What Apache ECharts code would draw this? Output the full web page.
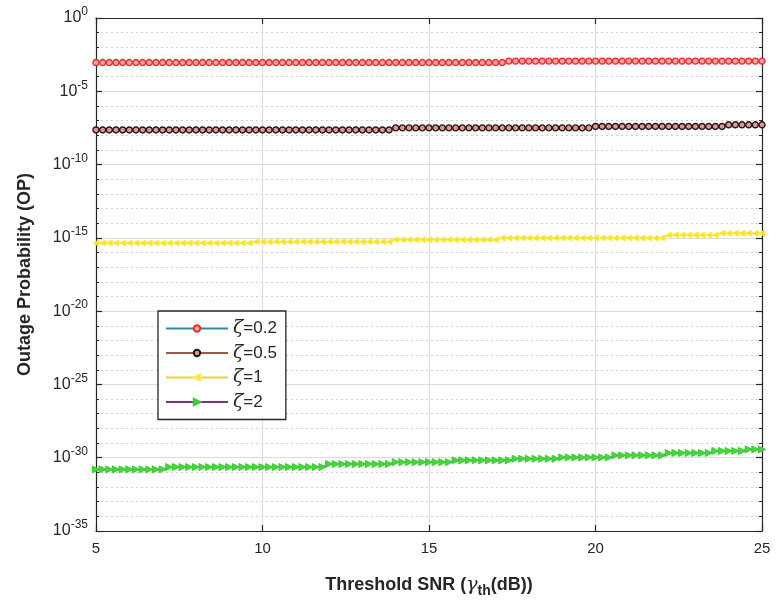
<!DOCTYPE html>
<html>
<head>
<meta charset="utf-8">
<script src="https://cdn.jsdelivr.net/npm/echarts@6/dist/echarts.min.js"></script>
<style>html,body{margin:0;padding:0;background:#fff}#c{width:776px;height:615px}</style>
</head>
<body>
<div id="c"></div>
<script>
// Threshold SNR (dB), 5 to 25 in 0.2 dB steps
const snrDb = [
  5.0,5.2,5.4,5.6,5.8,6.0,6.2,6.4,6.6,6.8,
  7.0,7.2,7.4,7.6,7.8,8.0,8.2,8.4,8.6,8.8,
  9.0,9.2,9.4,9.6,9.8,10.0,10.2,10.4,10.6,10.8,
  11.0,11.2,11.4,11.6,11.8,12.0,12.2,12.4,12.6,12.8,
  13.0,13.2,13.4,13.6,13.8,14.0,14.2,14.4,14.6,14.8,
  15.0,15.2,15.4,15.6,15.8,16.0,16.2,16.4,16.6,16.8,
  17.0,17.2,17.4,17.6,17.8,18.0,18.2,18.4,18.6,18.8,
  19.0,19.2,19.4,19.6,19.8,20.0,20.2,20.4,20.6,20.8,
  21.0,21.2,21.4,21.6,21.8,22.0,22.2,22.4,22.6,22.8,
  23.0,23.2,23.4,23.6,23.8,24.0,24.2,24.4,24.6,24.8,
  25.0
];
// zeta = 0.2
const opZeta02 = [
  9.1e-4,9.1e-4,9.1e-4,9.1e-4,9.1e-4,9.1e-4,9.1e-4,9.1e-4,9.1e-4,9.1e-4,
  9.1e-4,9.1e-4,9.1e-4,9.1e-4,9.1e-4,9.1e-4,9.1e-4,9.1e-4,9.1e-4,9.1e-4,
  9.1e-4,9.1e-4,9.1e-4,9.1e-4,9.1e-4,9.1e-4,9.1e-4,9.1e-4,9.1e-4,9.1e-4,
  9.1e-4,9.1e-4,9.1e-4,9.1e-4,9.1e-4,9.1e-4,9.1e-4,9.1e-4,9.1e-4,9.1e-4,
  9.1e-4,9.1e-4,9.1e-4,9.1e-4,9.1e-4,9.1e-4,9.1e-4,9.1e-4,9.1e-4,9.1e-4,
  9.1e-4,9.1e-4,9.1e-4,9.1e-4,9.1e-4,9.1e-4,9.1e-4,9.1e-4,9.1e-4,9.1e-4,
  9.1e-4,9.1e-4,1.15e-3,1.15e-3,1.15e-3,1.15e-3,1.15e-3,1.15e-3,1.15e-3,1.15e-3,
  1.15e-3,1.15e-3,1.15e-3,1.15e-3,1.15e-3,1.15e-3,1.15e-3,1.15e-3,1.15e-3,1.15e-3,
  1.15e-3,1.15e-3,1.15e-3,1.15e-3,1.15e-3,1.15e-3,1.15e-3,1.15e-3,1.15e-3,1.15e-3,
  1.15e-3,1.15e-3,1.15e-3,1.15e-3,1.15e-3,1.15e-3,1.15e-3,1.15e-3,1.15e-3,1.15e-3,
  1.15e-3
];
// zeta = 0.5
const opZeta05 = [
  2.3e-8,2.3e-8,2.3e-8,2.3e-8,2.3e-8,2.3e-8,2.3e-8,2.3e-8,2.3e-8,2.3e-8,
  2.3e-8,2.3e-8,2.3e-8,2.3e-8,2.3e-8,2.3e-8,2.3e-8,2.3e-8,2.3e-8,2.3e-8,
  2.3e-8,2.3e-8,2.3e-8,2.3e-8,2.3e-8,2.3e-8,2.3e-8,2.3e-8,2.3e-8,2.3e-8,
  2.3e-8,2.3e-8,2.3e-8,2.3e-8,2.3e-8,2.3e-8,2.3e-8,2.3e-8,2.3e-8,2.3e-8,
  2.3e-8,2.3e-8,2.3e-8,2.3e-8,2.3e-8,3.2e-8,3.2e-8,3.2e-8,3.2e-8,3.2e-8,
  3.2e-8,3.2e-8,3.2e-8,3.2e-8,3.2e-8,3.2e-8,3.2e-8,3.2e-8,3.2e-8,3.2e-8,
  3.2e-8,3.2e-8,3.2e-8,3.2e-8,3.2e-8,3.2e-8,3.2e-8,3.2e-8,3.2e-8,3.2e-8,
  3.2e-8,3.2e-8,3.2e-8,3.2e-8,3.2e-8,4.0e-8,4.0e-8,4.0e-8,4.0e-8,4.0e-8,
  4.0e-8,4.0e-8,4.0e-8,4.0e-8,4.0e-8,4.0e-8,4.0e-8,4.0e-8,4.0e-8,4.0e-8,
  4.0e-8,4.0e-8,4.0e-8,4.0e-8,4.0e-8,5.2e-8,5.2e-8,5.2e-8,5.2e-8,5.2e-8,
  5.2e-8
];
// zeta = 1
const opZeta1 = [
  4.4e-16,4.4e-16,4.4e-16,4.4e-16,4.4e-16,4.4e-16,4.4e-16,4.4e-16,4.4e-16,4.4e-16,
  4.4e-16,4.4e-16,4.4e-16,4.4e-16,4.4e-16,4.4e-16,4.4e-16,4.4e-16,4.4e-16,4.4e-16,
  4.4e-16,4.4e-16,4.4e-16,4.4e-16,5.4e-16,5.4e-16,5.4e-16,5.4e-16,5.4e-16,5.4e-16,
  5.4e-16,5.4e-16,5.4e-16,5.4e-16,5.4e-16,5.4e-16,5.4e-16,5.4e-16,5.4e-16,5.4e-16,
  5.4e-16,5.4e-16,5.4e-16,5.4e-16,5.4e-16,7.4e-16,7.4e-16,7.4e-16,7.4e-16,7.4e-16,
  7.4e-16,7.4e-16,7.4e-16,7.4e-16,7.4e-16,7.4e-16,7.4e-16,7.4e-16,7.4e-16,7.4e-16,
  7.4e-16,9.8e-16,9.8e-16,9.8e-16,9.8e-16,9.8e-16,9.8e-16,9.8e-16,9.8e-16,9.8e-16,
  9.8e-16,9.8e-16,9.8e-16,9.8e-16,9.8e-16,9.8e-16,9.8e-16,9.8e-16,9.8e-16,9.8e-16,
  9.8e-16,9.8e-16,9.8e-16,9.8e-16,9.8e-16,9.8e-16,1.55e-15,1.55e-15,1.55e-15,1.55e-15,
  1.55e-15,1.55e-15,1.55e-15,1.55e-15,2.05e-15,2.05e-15,2.05e-15,2.05e-15,2.05e-15,2.05e-15,
  2.05e-15
];
// zeta = 2
const opZeta2 = [
  1.6e-31,1.6e-31,1.6e-31,1.6e-31,1.6e-31,1.6e-31,1.6e-31,1.6e-31,1.6e-31,1.6e-31,
  1.6e-31,2.3e-31,2.3e-31,2.3e-31,2.3e-31,2.3e-31,2.3e-31,2.3e-31,2.3e-31,2.3e-31,
  2.3e-31,2.3e-31,2.3e-31,2.3e-31,2.3e-31,2.3e-31,2.3e-31,2.3e-31,2.3e-31,2.3e-31,
  2.3e-31,2.3e-31,2.3e-31,2.3e-31,2.3e-31,3.7e-31,3.7e-31,3.7e-31,3.7e-31,3.7e-31,
  3.7e-31,3.7e-31,3.7e-31,3.7e-31,3.7e-31,5.0e-31,5.0e-31,5.0e-31,5.0e-31,5.0e-31,
  5.0e-31,5.0e-31,5.0e-31,5.0e-31,6.6e-31,6.6e-31,6.6e-31,6.6e-31,6.6e-31,6.6e-31,
  6.6e-31,6.6e-31,6.6e-31,8.5e-31,8.5e-31,8.5e-31,8.5e-31,8.5e-31,8.5e-31,8.5e-31,
  1.05e-30,1.05e-30,1.05e-30,1.05e-30,1.05e-30,1.05e-30,1.05e-30,1.05e-30,1.45e-30,1.45e-30,
  1.45e-30,1.45e-30,1.45e-30,1.45e-30,1.45e-30,1.45e-30,2.1e-30,2.1e-30,2.1e-30,2.1e-30,
  2.1e-30,2.1e-30,2.1e-30,2.9e-30,2.9e-30,2.9e-30,2.9e-30,2.9e-30,3.7e-30,3.7e-30,
  3.7e-30
];
const seriesNames = ['0.2', '0.5', '1', '2'];
const yExpTicks = [-35, -30, -25, -20, -15, -10, -5, 0];
const xTicks = [5, 10, 15, 20, 25];

const pairs = arr => snrDb.map((x, i) => [x, arr[i]]);
const FONT = 'Liberation Sans, Arial, sans-serif';

const chart = echarts.init(document.getElementById('c'), null, {renderer: 'canvas'});

const yLinCommon = {
  type: 'value', min: -35, max: 0, interval: 5, gridIndex: 0,
  axisLine: {show: true, lineStyle: {color: '#262626', width: 1.2}},
  axisTick: {show: true, inside: true, length: 6, lineStyle: {color: '#262626', width: 1.2}},
  minorTick: {show: true, splitNumber: 5, length: 3, lineStyle: {color: '#262626', width: 1}}
};

chart.setOption({
  animation: false,
  backgroundColor: '#fff',
  grid: {left: 96, right: 14, top: 18, bottom: 84, containLabel: false},
  xAxis: [
    {
      type: 'value', min: 5, max: 25, interval: 5, position: 'bottom',
      axisLine: {show: true, onZero: false, lineStyle: {color: '#262626', width: 1.2}},
      axisTick: {show: true, inside: true, length: 6, lineStyle: {color: '#262626', width: 1.2}},
      axisLabel: {color: '#262626', fontSize: 15, fontFamily: FONT, margin: 10,
        formatter: v => xTicks.includes(v) ? String(v) : ''},
      splitLine: {show: true, lineStyle: {color: '#dcdcdc', width: 1}},
      name: '{b|Threshold SNR (}{g|γ}{s|th}{b|(dB))}',
      nameLocation: 'middle', nameGap: 41,
      nameTextStyle: {
        rich: {
          b: {fontSize: 18, fontWeight: 'bold', fontFamily: FONT, color: '#262626'},
          g: {fontSize: 19, fontStyle: 'italic', fontFamily: 'DejaVu Serif, serif', color: '#262626'},
          s: {fontSize: 14, fontWeight: 'bold', fontFamily: FONT, color: '#262626', padding: [12, 0, 0, 0]}
        }
      }
    },
    {
      type: 'value', min: 5, max: 25, interval: 5, position: 'top',
      axisLine: {show: true, onZero: false, lineStyle: {color: '#262626', width: 1.2}},
      axisTick: {show: true, inside: true, length: 6, lineStyle: {color: '#262626', width: 1.2}},
      axisLabel: {show: false}, splitLine: {show: false}
    }
  ],
  yAxis: [
    {
      type: 'log', logBase: 10, min: 1e-35, max: 1, show: false
    },
    Object.assign({}, yLinCommon, {
      position: 'left',
      axisLabel: {
        show: true, margin: 8, fontFamily: FONT,
        formatter: v => yExpTicks.includes(v) ? '{b|10}{s|' + v + '}' : '',
        rich: {
          b: {fontSize: 16, color: '#262626', fontFamily: FONT},
          s: {fontSize: 12, color: '#262626', fontFamily: FONT, padding: [0, 0, 12, 0]}
        }
      },
      splitLine: {show: true, lineStyle: {color: '#dcdcdc', width: 1}},
      minorSplitLine: {show: true, lineStyle: {color: '#cfcfcf', width: 1, type: [2, 3]}},
      name: 'Outage Probability (OP)',
      nameLocation: 'middle', nameGap: 62, nameRotate: 90,
      nameTextStyle: {fontSize: 18, fontWeight: 'bold', fontFamily: FONT, color: '#262626'}
    }),
    Object.assign({}, yLinCommon, {
      position: 'right',
      axisLabel: {show: false},
      splitLine: {show: false}
    })
  ],
  legend: {
    left: 158, top: 311,
    orient: 'vertical',
    padding: [8, 9, 8, 7],
    itemWidth: 62, itemHeight: 8, itemGap: 5.5,
    backgroundColor: '#fff',
    borderColor: '#262626', borderWidth: 1.3, borderRadius: 0,
    data: seriesNames.map(n => 'ζ=' + n),
    formatter: name => '{z|ζ}{t|=' + name.slice(2) + '}',
    textStyle: {
      rich: {
        z: {fontSize: 19, fontStyle: 'italic', fontFamily: 'DejaVu Serif, serif', color: '#262626', lineHeight: 20},
        t: {fontSize: 17, fontFamily: FONT, color: '#262626', lineHeight: 20}
      }
    }
  },
  series: [
    {
      name: 'ζ=0.2', type: 'line', xAxisIndex: 0, yAxisIndex: 0,
      data: pairs(opZeta02),
      symbol: 'circle', symbolSize: 6,
      lineStyle: {color: '#2f86a6', width: 1.5},
      itemStyle: {color: '#f6a5a5', borderColor: '#ee2a2a', borderWidth: 1.4},
      emphasis: {disabled: true}
    },
    {
      name: 'ζ=0.5', type: 'line', xAxisIndex: 0, yAxisIndex: 0,
      data: pairs(opZeta05),
      symbol: 'circle', symbolSize: 6,
      lineStyle: {color: '#a8583a', width: 1.5},
      itemStyle: {color: '#d99a9a', borderColor: '#2a1414', borderWidth: 1.4},
      emphasis: {disabled: true}
    },
    {
      name: 'ζ=1', type: 'line', xAxisIndex: 0, yAxisIndex: 0,
      data: pairs(opZeta1),
      symbol: 'triangle', symbolSize: 6, symbolRotate: 90,
      lineStyle: {color: '#ecd23a', width: 1.5},
      itemStyle: {color: '#f7e41c', borderColor: '#f9ea55', borderWidth: 1},
      emphasis: {disabled: true}
    },
    {
      name: 'ζ=2', type: 'line', xAxisIndex: 0, yAxisIndex: 0,
      data: pairs(opZeta2),
      symbol: 'triangle', symbolSize: 7, symbolRotate: -90,
      lineStyle: {color: '#7e2f8e', width: 1.5},
      itemStyle: {color: '#45d83a', borderColor: '#3cc934', borderWidth: 1},
      emphasis: {disabled: true}
    }
  ]
});
</script>
</body>
</html>
